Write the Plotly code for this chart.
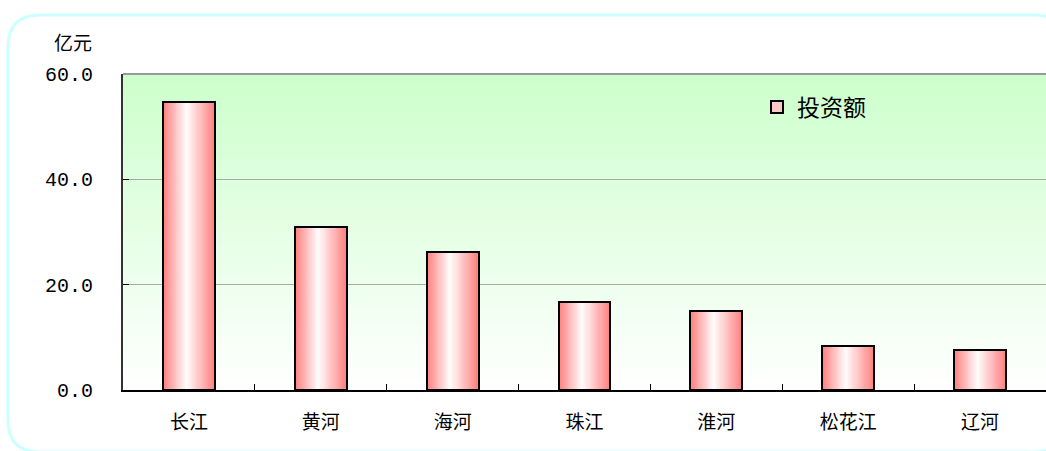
import plotly.graph_objects as go

# 各流域投资额（亿元）
basins = ["长江", "黄河", "海河", "珠江", "淮河", "松花江", "辽河"]
investment = [54.7, 31.0, 26.2, 16.7, 15.0, 8.4, 7.6]
y_ticks = [0, 20, 40, 60]
series_name = "投资额"
unit_label = "亿元"

W, H = 1046, 451
M_L, M_R, M_T, M_B = 123, 0, 74, 61
plot_w = W - M_L - M_R
plot_h = H - M_T - M_B

CJK = "Noto Sans CJK SC"
MONO = "Liberation Mono"

fig = go.Figure()

# Bars with a horizontal red-white-red gradient: nested overlaid bars
bar_w = 0.394
peak = -bar_w / 2 + 0.45 * bar_w
steps = 26
edge = (255, 128, 128)
for k in range(steps):
    a = 1 - k / steps
    col = tuple(round(255 * (1 - a) + c * a) for c in edge)
    fig.add_trace(go.Bar(
        x=basins, y=investment,
        width=bar_w * a,
        offset=peak - 0.45 * bar_w * a,
        marker=dict(color="rgb(%d,%d,%d)" % col, line=dict(width=0)),
        name=series_name, showlegend=False, hoverinfo="skip",
    ))

# Black outline drawn over the gradient
fig.add_trace(go.Bar(
    x=basins, y=investment,
    width=bar_w, offset=-bar_w / 2,
    marker=dict(color="rgba(0,0,0,0)", line=dict(width=2, color="black")),
    name=series_name, showlegend=False,
))
# Legend entry
fig.add_trace(go.Bar(
    x=[None], y=[None], name=series_name, showlegend=True,
    marker=dict(color="rgb(255,200,200)", line=dict(width=2, color="black")),
))

shapes = []
# Vertical green-to-white background gradient in the plot area
n_strips = 90
top_c = (204, 255, 204)
for i in range(n_strips):
    t = (i + 0.5) / n_strips  # 0 bottom -> 1 top
    c = tuple(round(255 * (1 - t) + v * t) for v in top_c)
    shapes.append(dict(
        type="rect", xref="x domain", yref="y domain",
        x0=0, x1=1, y0=i / n_strips, y1=(i + 1) / n_strips + 0.002,
        fillcolor="rgb(%d,%d,%d)" % c, line=dict(width=0), layer="below",
    ))
# top border of the plot area
shapes.append(dict(type="line", xref="x domain", yref="y domain",
                   x0=0, x1=1, y0=1, y1=1,
                   line=dict(color="#999999", width=2)))


# Rounded outer frame
def px(xp):
    return (xp - M_L) / plot_w


def py(yp):
    return (H - M_B - yp) / plot_h


x0, y0, x1, y1, r = 8, 15, 1066, 452, 32
path = (
    f"M {px(x0 + r)},{py(y0)} L {px(x1 - r)},{py(y0)} "
    f"Q {px(x1)},{py(y0)} {px(x1)},{py(y0 + r)} "
    f"L {px(x1)},{py(y1 - r)} Q {px(x1)},{py(y1)} {px(x1 - r)},{py(y1)} "
    f"L {px(x0 + r)},{py(y1)} Q {px(x0)},{py(y1)} {px(x0)},{py(y1 - r)} "
    f"L {px(x0)},{py(y0 + r)} Q {px(x0)},{py(y0)} {px(x0 + r)},{py(y0)} Z"
)
shapes.append(dict(type="path", xref="paper", yref="paper", path=path,
                   line=dict(color="#CCFFFF", width=3), layer="below"))

fig.update_layout(
    width=W, height=H,
    margin=dict(l=M_L, r=M_R, t=M_T, b=M_B, pad=0),
    paper_bgcolor="white", plot_bgcolor="white",
    barmode="overlay", bargap=0,
    shapes=shapes,
    showlegend=True,
    legend=dict(x=px(757), y=py(107), xanchor="left", yanchor="middle",
                bgcolor="rgba(0,0,0,0)", font=dict(family=CJK, size=23, color="black"),
                itemsizing="constant"),
    annotations=[dict(text=unit_label, x=px(73), y=py(42), xref="paper", yref="paper",
                      xanchor="center", yanchor="middle",
                      showarrow=False, font=dict(family=CJK, size=19, color="black"))],
    xaxis=dict(type="category", categoryorder="array", categoryarray=basins,
               range=[-0.5, 6.5], tickson="boundaries", ticks="inside", ticklen=6,
               tickcolor="black", showline=True, linecolor="black", linewidth=2,
               showgrid=False, tickfont=dict(family=CJK, size=19, color="black"),
               ticklabelstandoff=14),
    yaxis=dict(range=[0, 60], tickvals=y_ticks, tickformat=".1f", ticks="inside",
               ticklen=6, tickcolor="black", showline=True, linecolor="#333333",
               linewidth=2, showgrid=True, gridcolor="#A8A8A8", gridwidth=1,
               zeroline=False, tickfont=dict(family=MONO, size=20, color="black"),
               ticklabelstandoff=24),
)

fig.write_html("out.html")
